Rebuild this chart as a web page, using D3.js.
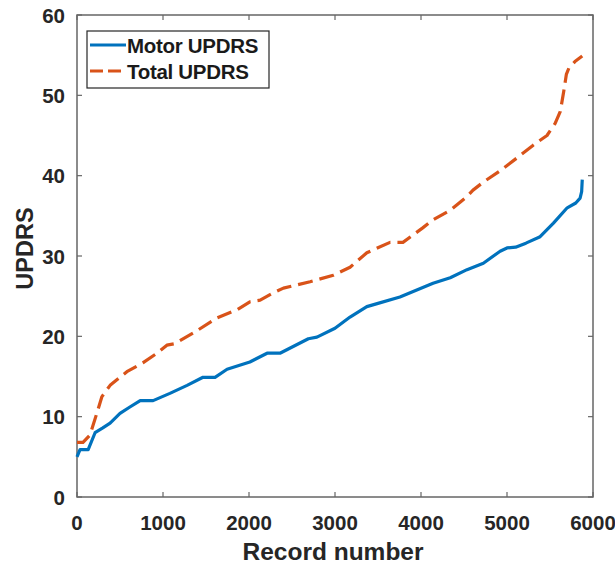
<!DOCTYPE html>
<html>
<head>
<meta charset="utf-8">
<script src="https://cdn.jsdelivr.net/npm/d3@7"></script>
<style>
  html, body { margin: 0; padding: 0; background: #fff; }
  svg { display: block; font-family: Arial, "Liberation Sans", sans-serif; }
</style>
</head>
<body>
<svg id="chart" width="615" height="566"></svg>
<script>
// Sorted UPDRS scores against record index
const motorRecords = [0, 35, 130, 210, 300, 385, 500, 615, 735, 885, 1080, 1280, 1465, 1605, 1745, 2010, 2210, 2360, 2690, 2790, 3000, 3175, 3370, 3500, 3755, 4140, 4340, 4535, 4725, 4920, 5000, 5100, 5220, 5385, 5540, 5700, 5800, 5850, 5868, 5875];
const motorUPDRS   = [5.0, 5.9, 5.9, 8.0, 8.6, 9.2, 10.4, 11.2, 12.0, 12.0, 12.9, 13.9, 14.9, 14.9, 15.9, 16.8, 17.9, 17.9, 19.7, 19.9, 21.0, 22.4, 23.7, 24.1, 24.9, 26.6, 27.3, 28.3, 29.1, 30.6, 31.0, 31.1, 31.6, 32.4, 34.1, 36.0, 36.6, 37.2, 38.0, 39.5];

const totalRecords = [0, 70, 150, 230, 290, 385, 580, 765, 930, 1045, 1140, 1350, 1630, 1860, 2010, 2130, 2280, 2400, 2710, 2980, 3175, 3370, 3640, 3790, 4020, 4140, 4340, 4535, 4605, 4725, 4920, 5115, 5305, 5465, 5560, 5620, 5660, 5690, 5720, 5790, 5875];
const totalUPDRS   = [6.8, 6.8, 7.7, 10.4, 12.5, 13.9, 15.6, 16.7, 17.9, 18.9, 19.1, 20.4, 22.3, 23.3, 24.3, 24.5, 25.4, 26.0, 26.8, 27.6, 28.6, 30.4, 31.7, 31.7, 33.5, 34.5, 35.7, 37.4, 38.2, 39.2, 40.6, 42.2, 43.8, 45.0, 46.5, 48.0, 50.5, 52.6, 53.4, 54.2, 54.9];

const xTicks = [0, 1000, 2000, 3000, 4000, 5000, 6000];
const yTicks = [0, 10, 20, 30, 40, 50, 60];

const seriesNames = ["Motor UPDRS", "Total UPDRS"];
const seriesColors = ["#0072BD", "#D95319"];

const svg = d3.select("#chart");
const plotL = 77, plotR = 593, plotT = 15, plotB = 497;
const boxColor = "#666666";
const textColor = "#262626";

const x = d3.scaleLinear().domain([0, 6000]).range([plotL, plotR]);
const y = d3.scaleLinear().domain([0, 60]).range([plotB, plotT]);

// Box with inward ticks on all four sides
const tickLen = 5;
const ax = svg.append("g");
ax.append("rect")
  .attr("x", plotL).attr("y", plotT)
  .attr("width", plotR - plotL).attr("height", plotB - plotT)
  .attr("fill", "none").attr("stroke", boxColor).attr("stroke-width", 1.5);

ax.selectAll(".xt").data(xTicks).join("g").each(function(d) {
  const g = d3.select(this);
  g.append("line").attr("x1", x(d)).attr("x2", x(d)).attr("y1", plotB).attr("y2", plotB - tickLen)
    .attr("stroke", boxColor).attr("stroke-width", 1.2);
  g.append("line").attr("x1", x(d)).attr("x2", x(d)).attr("y1", plotT).attr("y2", plotT + tickLen)
    .attr("stroke", boxColor).attr("stroke-width", 1.2);
  g.append("text").attr("x", x(d)).attr("y", 530)
    .attr("text-anchor", "middle").attr("font-size", 20.5).attr("font-weight", "bold")
    .attr("fill", textColor).text(d);
});

ax.selectAll(".yt").data(yTicks).join("g").each(function(d) {
  const g = d3.select(this);
  g.append("line").attr("x1", plotL).attr("x2", plotL + tickLen).attr("y1", y(d)).attr("y2", y(d))
    .attr("stroke", boxColor).attr("stroke-width", 1.2);
  g.append("line").attr("x1", plotR).attr("x2", plotR - tickLen).attr("y1", y(d)).attr("y2", y(d))
    .attr("stroke", boxColor).attr("stroke-width", 1.2);
  g.append("text").attr("x", 65).attr("y", y(d) + 7.5)
    .attr("text-anchor", "end").attr("font-size", 20.5).attr("font-weight", "bold")
    .attr("fill", textColor).text(d);
});

// Axis titles
svg.append("text").attr("x", 333).attr("y", 560)
  .attr("text-anchor", "middle").attr("font-size", 24.5).attr("font-weight", "bold")
  .attr("fill", textColor).text("Record number");
svg.append("text").attr("transform", "translate(33,248.5) rotate(-90)")
  .attr("text-anchor", "middle").attr("font-size", 23.5).attr("font-weight", "bold")
  .attr("fill", textColor).text("UPDRS");

// Curves
const line = d3.line().x(d => x(d[0])).y(d => y(d[1]));
const motor = motorRecords.map((r, i) => [r, motorUPDRS[i]]);
const total = totalRecords.map((r, i) => [r, totalUPDRS[i]]);

svg.append("path").datum(total).attr("d", line)
  .attr("fill", "none").attr("stroke", seriesColors[1]).attr("stroke-width", 3.2)
  .attr("stroke-dasharray", "15,7").attr("stroke-linejoin", "round");
svg.append("path").datum(motor).attr("d", line)
  .attr("fill", "none").attr("stroke", seriesColors[0]).attr("stroke-width", 3.2)
  .attr("stroke-linejoin", "round");

// Legend
const lg = svg.append("g");
lg.append("rect").attr("x", 87).attr("y", 31).attr("width", 182).attr("height", 57)
  .attr("fill", "#fff").attr("stroke", textColor).attr("stroke-width", 1.2);
seriesNames.forEach((name, i) => {
  const ly = 45 + i * 26;
  lg.append("line").attr("x1", 90).attr("x2", 126).attr("y1", ly).attr("y2", ly)
    .attr("stroke", seriesColors[i]).attr("stroke-width", 3)
    .attr("stroke-dasharray", i === 1 ? "13,5" : null);
  lg.append("text").attr("x", 127).attr("y", ly + 8)
    .attr("font-size", 20.5).attr("font-weight", "bold").attr("fill", "#1a1a1a")
    .attr("letter-spacing", -0.3).text(name);
});
</script>
</body>
</html>
